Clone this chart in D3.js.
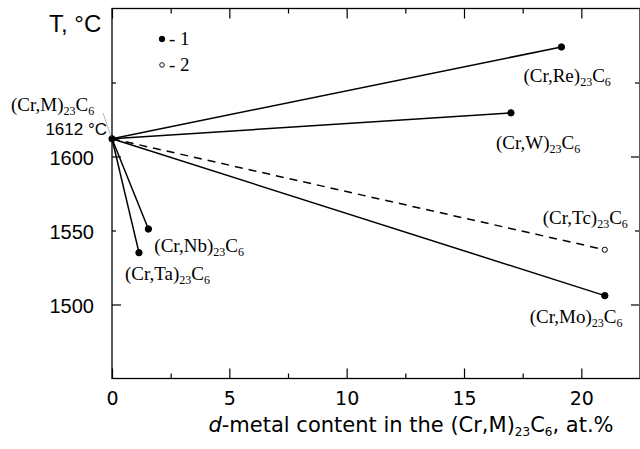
<!DOCTYPE html>
<html>
<head>
<meta charset="utf-8">
<script src="https://cdn.jsdelivr.net/npm/d3@7"></script>
<style>
  body { margin: 0; background: #fff; }
  svg { display: block; }
  .tick text { font-family: "DejaVu Sans", sans-serif; fill: #000; }
</style>
</head>
<body>
<div id="root"></div>
<script>
// carbide systems (Cr,M)23C6
const metals = ['Re', 'W', 'Tc', 'Mo', 'Nb', 'Ta'];
const content = [19.15, 17.0, 21.0, 21.0, 1.55, 1.15];       // at.%
const meltT = [1674, 1629.5, 1537, 1506, 1551, 1535];        // deg C
const pointKind = [1, 1, 2, 1, 1, 1];                        // 1 = filled, 2 = open
const baseContent = 0;
const baseT = 1612;

const xMajor = [0, 5, 10, 15, 20];
const xMinor = [2.5, 7.5, 12.5, 17.5];
const yMajor = [1500, 1600];
const yMinor = [1550, 1650];
const yLabels = [1500, 1550, 1600];

// label offsets from each point, px
const labelOffset = {
  Re: [-38, 35], W: [-15, 36], Tc: [-62, -26],
  Mo: [-75, 27], Nb: [6, 23], Ta: [-14, 27]
};

const W = 640, H = 449;
const m = { left: 112, top: 8.5, right: 640, bottom: 378.5 };

const svg = d3.select('#root').append('svg')
  .attr('width', W)
  .attr('height', H);

const x = d3.scaleLinear().domain([0, 22.5]).range([m.left, m.right]);
const y = d3.scaleLinear().domain([1450, 1700]).range([m.bottom, m.top]);

// axes: ticks pointing inward on all four sides
function addAxis(axisFn, scale, transform, values, size, labels) {
  const g = svg.append('g')
    .attr('transform', transform)
    .call(axisFn(scale).tickValues(values).tickSizeInner(size).tickSizeOuter(0)
      .tickPadding(labels ? 13 : 0)
      .tickFormat(labels ? d3.format('d') : ''));
  g.select('.domain').remove();
  g.selectAll('.tick line').attr('stroke', '#000').attr('stroke-width', 1.2);
  return g;
}

addAxis(d3.axisBottom, x, `translate(0,${m.bottom})`, xMajor, -10, true)
  .selectAll('.tick text').attr('font-size', 19);
addAxis(d3.axisBottom, x, `translate(0,${m.bottom})`, xMinor, -5, false);
addAxis(d3.axisTop, x, `translate(0,${m.top})`, xMajor, -10, false);
addAxis(d3.axisTop, x, `translate(0,${m.top})`, xMinor, -5, false);
addAxis(d3.axisLeft, y, `translate(${m.left},0)`, yMajor, -9, false);
addAxis(d3.axisLeft, y, `translate(${m.left},0)`, yMinor, -4, false);
addAxis(d3.axisRight, y, `translate(${m.right - 1},0)`, yMajor, -8, false);
addAxis(d3.axisRight, y, `translate(${m.right - 1},0)`, yMinor, -4, false);

svg.append('g').selectAll('text')
  .data(yLabels)
  .join('text')
  .attr('x', m.left - 18)
  .attr('y', d => y(d) + 8)
  .attr('text-anchor', 'end')
  .attr('font-family', '"Liberation Sans", Arial, sans-serif')
  .attr('font-size', 20)
  .text(d => d);

svg.append('rect')
  .attr('x', m.left).attr('y', m.top)
  .attr('width', m.right - m.left).attr('height', m.bottom - m.top)
  .attr('fill', 'none').attr('stroke', '#000').attr('stroke-width', 1.3);

// lines from (Cr,M)23C6 origin
const pts = metals.map((d, i) => ({ m: d, c: content[i], t: meltT[i], k: pointKind[i] }));

svg.append('g').selectAll('line')
  .data(pts)
  .join('line')
  .attr('x1', x(baseContent)).attr('y1', y(baseT))
  .attr('x2', d => x(d.c)).attr('y2', d => y(d.t))
  .attr('stroke', '#000')
  .attr('stroke-width', 1.5)
  .attr('stroke-dasharray', d => d.k === 2 ? '8,6' : null);

svg.append('g').selectAll('circle')
  .data(pts)
  .join('circle')
  .attr('cx', d => x(d.c)).attr('cy', d => y(d.t))
  .attr('r', d => d.k === 2 ? 2.6 : 3.2)
  .attr('fill', d => d.k === 2 ? '#fff' : '#000')
  .attr('stroke', '#000')
  .attr('stroke-width', 1);

svg.append('circle')
  .attr('cx', x(baseContent)).attr('cy', y(baseT))
  .attr('r', 3.5).attr('fill', '#000');

// formula labels
function formula(sel, metal) {
  sel.attr('font-family', '"Liberation Serif", "Times New Roman", serif')
    .attr('font-size', 19);
  sel.append('tspan').text(`(Cr,${metal})`);
  sel.append('tspan').attr('font-size', 12).attr('dy', 4).text('23');
  sel.append('tspan').attr('dy', -4).text('C');
  sel.append('tspan').attr('font-size', 12).attr('dy', 4).text('6');
}

pts.forEach(d => {
  const off = labelOffset[d.m];
  svg.append('text')
    .attr('x', x(d.c) + off[0])
    .attr('y', y(d.t) + off[1])
    .call(formula, d.m);
});

svg.append('text').attr('x', 11).attr('y', 111).call(formula, 'M');
svg.append('text')
  .attr('x', 107).attr('y', 135)
  .attr('text-anchor', 'end')
  .attr('font-family', '"Liberation Sans", Arial, sans-serif')
  .attr('font-size', 17)
  .text(`${baseT} °C`);
svg.append('line')
  .attr('x1', 103).attr('y1', 113).attr('x2', x(baseContent) - 1).attr('y2', y(baseT) - 2)
  .attr('stroke', '#999').attr('stroke-width', 0.7);

// legend
const legend = [{ k: 1, label: '- 1' }, { k: 2, label: '- 2' }];
const lg = svg.append('g').selectAll('g')
  .data(legend)
  .join('g')
  .attr('transform', (d, i) => `translate(162,${39 + i * 26})`);
lg.append('circle')
  .attr('r', d => d.k === 2 ? 2.3 : 2.8)
  .attr('fill', d => d.k === 2 ? '#fff' : '#000')
  .attr('stroke', '#000').attr('stroke-width', 0.9);
lg.append('text')
  .attr('x', 7).attr('y', 6)
  .attr('font-family', '"Liberation Serif", "Times New Roman", serif')
  .attr('font-size', 19)
  .text(d => d.label);

// axis titles
svg.append('text')
  .attr('x', 49).attr('y', 32)
  .attr('font-family', '"Liberation Sans", Arial, sans-serif')
  .attr('font-size', 24)
  .text('T, °C');

const xt = svg.append('text')
  .attr('x', 411).attr('y', 432)
  .attr('text-anchor', 'middle')
  .attr('font-family', '"DejaVu Sans", sans-serif')
  .attr('font-size', 21);
xt.append('tspan').attr('font-style', 'italic').text('d');
xt.append('tspan').text('-metal content in the (Cr,M)');
xt.append('tspan').attr('font-size', 12).attr('dy', 4).text('23');
xt.append('tspan').attr('dy', -4).text('C');
xt.append('tspan').attr('font-size', 12).attr('dy', 4).text('6');
xt.append('tspan').attr('dy', -4).text(', at.%');
</script>
</body>
</html>
